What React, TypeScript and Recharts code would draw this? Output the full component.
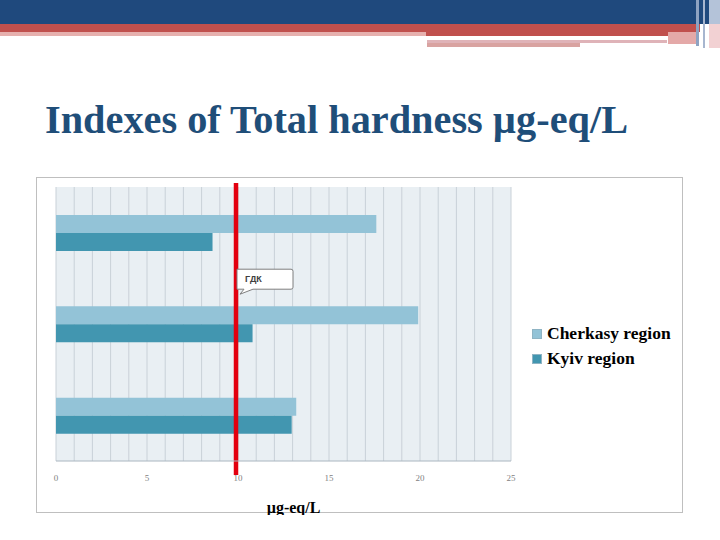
import React from "react";
import {
  BarChart,
  Bar,
  XAxis,
  YAxis,
  CartesianGrid,
  ReferenceLine,
  Legend,
} from "recharts";

const sites = ["Site 1", "Site 2", "Site 3"];
const cherkasy = [17.6, 19.9, 13.2];
const kyiv = [8.6, 10.8, 12.95];
const limitValue = 10;
const limitLabel = "ГДК";
const majorTicks = [0, 5, 10, 15, 20, 25];
const gridTicks = [
  0, 1, 2, 3, 4, 5, 6, 7, 8, 9, 10, 11, 12, 13, 14, 15, 16, 17, 18, 19, 20, 21,
  22, 23, 24, 25,
];

const CHERKASY_COLOR = "#93c3d7";
const KYIV_COLOR = "#4296b0";
const SERIF = "'Liberation Serif', 'Times New Roman', serif";

const chartData = sites.map((s, i) => ({
  site: s,
  cherkasy: cherkasy[i],
  kyiv: kyiv[i],
}));

// red limit line, drawn a bit past the plot edges, with the callout box
const LimitLine = (props: any) => {
  const { x1, y1, y2 } = props;
  const top = Math.min(y1, y2);
  const bottom = Math.max(y1, y2);
  const boxY = top + (bottom - top) * 0.3;
  const lx = x1 - 2;
  const bx = x1 - 1;
  return (
    <g>
      <line x1={lx} x2={lx} y1={top - 4} y2={bottom + 14} stroke="#e3000f" strokeWidth={4.5} />
      <path
        d={`M${bx} ${boxY} h54 a2 2 0 0 1 2 2 v16 a2 2 0 0 1 -2 2 h-38 l-13 5 l4 -5 h-7 z`}
        fill="#ffffff"
        stroke="#7f7f7f"
        strokeWidth={1}
      />
      <text
        x={bx + 8}
        y={boxY + 13}
        fontFamily="Arial, 'Liberation Sans', sans-serif"
        fontSize={9}
        fontWeight="bold"
        fill="#404040"
      >
        {limitLabel}
      </text>
    </g>
  );
};

const LegendBox = () => (
  <div style={{ fontFamily: SERIF, fontWeight: "bold", fontSize: 17.5, color: "#000" }}>
    {[
      { name: "Cherkasy region", color: CHERKASY_COLOR },
      { name: "Kyiv region", color: KYIV_COLOR },
    ].map((it) => (
      <div key={it.name} style={{ display: "flex", alignItems: "center", height: 25 }}>
        <span
          style={{
            display: "inline-block",
            width: 8,
            height: 8,
            background: it.color,
            border: "1px solid #8fb4c4",
            marginRight: 5,
          }}
        />
        {it.name}
      </div>
    ))}
  </div>
);

export default function App() {
  return (
    <div
      style={{
        position: "absolute",
        left: 0,
        top: 0,
        width: 720,
        height: 540,
        background: "#ffffff",
        overflow: "hidden",
      }}
    >
      {/* slide header stripes */}
      <div style={{ position: "absolute", left: 0, top: 0, width: 720, height: 24, background: "#1f497d" }} />
      <div style={{ position: "absolute", left: 0, top: 24, width: 700, height: 8, background: "#c0504d" }} />
      <div style={{ position: "absolute", left: 0, top: 32, width: 426, height: 4, background: "#e6b0ae" }} />
      <div style={{ position: "absolute", left: 426, top: 32, width: 270, height: 4, background: "#c0504d" }} />
      <div style={{ position: "absolute", left: 427, top: 40, width: 240, height: 3, background: "#dfb3b8" }} />
      <div style={{ position: "absolute", left: 427, top: 43, width: 153, height: 4, background: "#d9a3a1" }} />
      <div style={{ position: "absolute", left: 668, top: 32, width: 28, height: 12, background: "#e4a9a8" }} />
      <div style={{ position: "absolute", left: 696, top: 0, width: 3, height: 46, background: "#8ea3c2" }} />
      <div style={{ position: "absolute", left: 703, top: 0, width: 2, height: 48, background: "#a7b6cf" }} />
      <div style={{ position: "absolute", left: 709, top: 0, width: 11, height: 24, background: "#b4c3d9" }} />
      <div style={{ position: "absolute", left: 709, top: 24, width: 11, height: 24, background: "#f2d1d3" }} />

      <div
        style={{
          position: "absolute",
          left: 45,
          top: 97,
          fontFamily: SERIF,
          fontWeight: "bold",
          fontSize: 40.3,
          color: "#1f4e79",
          whiteSpace: "nowrap",
          lineHeight: "46px",
        }}
      >
        Indexes of Total hardness µg-eq/L
      </div>

      <div
        style={{
          position: "absolute",
          left: 36,
          top: 177,
          width: 647,
          height: 336,
          border: "1px solid #bfbfbf",
          boxSizing: "border-box",
        }}
      />

      <div style={{ position: "absolute", left: 36, top: 177 }}>
        <BarChart
          width={648}
          height={338}
          data={chartData}
          layout="vertical"
          margin={{ top: 10, right: 173, bottom: 0, left: 20 }}
          barGap={0}
          barSize={18}
        >
          <CartesianGrid
            horizontal={false}
            stroke="#c9d1d8"
            fill="#e9eff3"
            fillOpacity={1}
          />
          <XAxis
            type="number"
            domain={[0, 25]}
            ticks={gridTicks}
            interval={0}
            tickFormatter={(v: number) => (majorTicks.includes(v) ? String(v) : "")}
            tickLine={false}
            tickSize={6}
            tickMargin={8}
            axisLine={{ stroke: "#aab6c0" }}
            tick={{ fontFamily: SERIF, fontSize: 9, fill: "#7f7f7f" }}
            height={54}
            label={{
              value: "µg-eq/L",
              position: "insideBottom",
              offset: 2,
              dx: 10,
              style: { fontFamily: SERIF, fontWeight: "bold", fontSize: 16, fill: "#000" },
            }}
          />
          <YAxis type="category" dataKey="site" hide />
          <Bar dataKey="cherkasy" name="Cherkasy region" fill={CHERKASY_COLOR} isAnimationActive={false} />
          <Bar dataKey="kyiv" name="Kyiv region" fill={KYIV_COLOR} isAnimationActive={false} />
          <ReferenceLine x={limitValue} shape={LimitLine} ifOverflow="visible" />
          <Legend
            layout="vertical"
            align="center"
            verticalAlign="middle"
            content={LegendBox}
            wrapperStyle={{ left: 496, top: 144, width: 160 }}
          />
        </BarChart>
      </div>
    </div>
  );
}
